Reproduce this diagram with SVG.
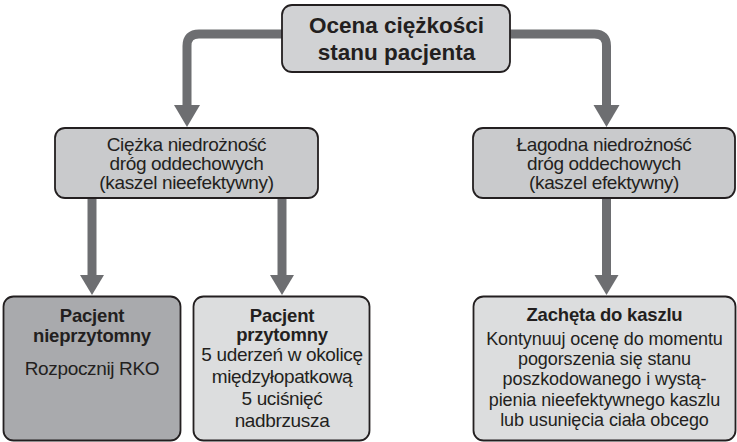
<svg xmlns="http://www.w3.org/2000/svg" width="737" height="442" viewBox="0 0 737 442">
<defs>
<style>
.box{stroke:#231f20;stroke-width:1.8}
.t{font-family:"Liberation Sans",Arial,sans-serif;font-size:19px;letter-spacing:-0.35px;fill:#231f20;text-anchor:middle}
.s{font-size:18px;letter-spacing:-0.1px}
.b{font-weight:bold;font-size:18.5px;letter-spacing:-0.2px}
.title{font-size:22.5px;letter-spacing:0px}
.line{fill:none;stroke:#6d6e71;stroke-width:9}
.head{fill:#6d6e71}
</style>
</defs>
<rect width="737" height="442" fill="#ffffff"/>
<g id="connectors">
<path class="line" d="M282,34 H199 Q187,34 187,46 V107"/>
<polygon class="head" points="174,105 200,105 187,127"/>
<path class="line" d="M510,34 H594.5 Q606.5,34 606.5,46 V107"/>
<polygon class="head" points="593.5,105 619.5,105 606.5,127"/>
<path class="line" d="M92,198 V277"/>
<polygon class="head" points="80,275 104,275 92,295"/>
<path class="line" d="M282,198 V277"/>
<polygon class="head" points="270,275 294,275 282,295"/>
<path class="line" d="M606.5,198 V277"/>
<polygon class="head" points="594.5,275 618.5,275 606.5,295"/>
</g>
<g id="n-ocena">
<rect class="box" x="282" y="5" width="228" height="67" rx="10" fill="#d1d2d4"/>
<text class="t b title" x="396.5" y="33">Ocena ciężkości</text>
<text class="t b title" x="396.5" y="60">stanu pacjenta</text>
</g>
<g id="n-ciezka">
<rect class="box" x="55" y="128" width="263" height="70" rx="10" fill="#c9cacc"/>
<text class="t" x="186.5" y="150.5">Ciężka niedrożność</text>
<text class="t" x="186.5" y="169.5">dróg oddechowych</text>
<text class="t" x="186.5" y="188.5">(kaszel nieefektywny)</text>
</g>
<g id="n-lagodna">
<rect class="box" x="473" y="128" width="262" height="70" rx="10" fill="#c9cacc"/>
<text class="t" x="604" y="150.5">Łagodna niedrożność</text>
<text class="t" x="604" y="169.5">dróg oddechowych</text>
<text class="t" x="604" y="188.5">(kaszel efektywny)</text>
</g>
<g id="n-nieprzytomny">
<rect class="box" x="3.5" y="296.5" width="177" height="144" rx="10" fill="#a9aaad"/>
<text class="t b" x="92" y="322">Pacjent</text>
<text class="t b" x="92" y="342">nieprzytomny</text>
<text class="t" x="92" y="375">Rozpocznij RKO</text>
</g>
<g id="n-przytomny">
<rect class="box" x="193.5" y="296.5" width="176" height="144" rx="10" fill="#dcddde"/>
<text class="t b" x="282" y="322">Pacjent</text>
<text class="t b" x="282" y="341">przytomny</text>
<text class="t" x="282" y="361">5 uderzeń w okolicę</text>
<text class="t" x="282" y="382.5">międzyłopatkową</text>
<text class="t" x="282" y="405">5 uciśnięć</text>
<text class="t" x="282" y="426.5">nadbrzusza</text>
</g>
<g id="n-zacheta">
<rect class="box" x="473.5" y="296.5" width="262" height="144" rx="10" fill="#dcddde"/>
<text class="t b" x="604.5" y="321">Zachęta do kaszlu</text>
<text class="t s" x="604.5" y="345">Kontynuuj ocenę do momentu</text>
<text class="t s" x="604.5" y="365.2">pogorszenia się stanu</text>
<text class="t s" x="604.5" y="385.4">poszkodowanego i wystą-</text>
<text class="t s" x="604.5" y="405.6">pienia nieefektywnego kaszlu</text>
<text class="t s" x="604.5" y="425.8">lub usunięcia ciała obcego</text>
</g>
</svg>
